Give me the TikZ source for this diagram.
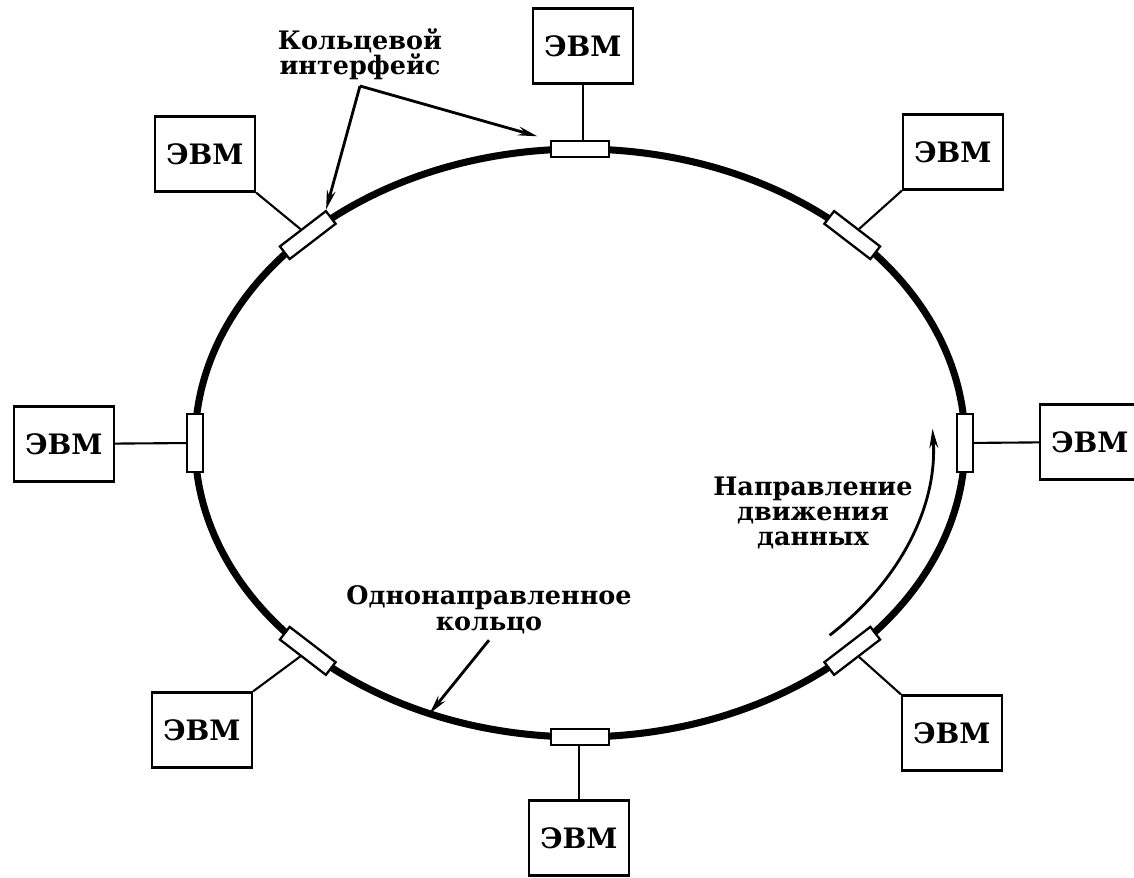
\documentclass[tikz,border=0pt]{standalone}
\usepackage{fontspec}
\setmainfont{DejaVu Serif}
\usetikzlibrary{positioning, arrows.meta, calc}

\begin{document}
\begin{tikzpicture}[
  x=0.02cm, y=0.02cm,
  pc/.style={draw, line width=1.3pt, minimum width=2cm, minimum height=1.5cm, inner sep=0pt, font=\fontsize{16}{16}\selectfont\bfseries},
  ifc/.style={draw, fill=white, line width=1.3pt, minimum width=1.16cm, minimum height=0.32cm, inner sep=0pt},
  ring/.style={line width=4pt},
  link/.style={line width=1.2pt},
  lbl/.style={font=\fontsize{14.5}{14.5}\selectfont\bfseries, align=center},
  ptr/.style={line width=1.6pt, -{Stealth[length=11pt, width=5pt]}},
]
  \useasboundingbox (0,0) rectangle (1134,878);
  \coordinate (c) at (580,435);
  % Ring
  \draw[ring] (c) ellipse[x radius=385, y radius=294];
  % Ring interfaces
  \foreach \a/\r in {0/90, 45/-37.5, 90/0, 135/37.5, 180/90, 225/-37.5, 270/0, 315/37.5}
    \node[ifc, rotate=\r] (i\a) at ($(c)+(\a:385 and 294)$) {};
  % Computers
  \node[pc] (e0) at (1090,436) {ЭВМ};
  \node[pc] (e45) at (953,726) {ЭВМ};
  \node[pc] (e90) at (583,832) {ЭВМ};
  \node[pc] (e135) at (205,724) {ЭВМ};
  \node[pc] (e180) at (64,434) {ЭВМ};
  \node[pc] (e225) at (202,148) {ЭВМ};
  \node[pc] (e270) at (579,40) {ЭВМ};
  \node[pc] (e315) at (952,145) {ЭВМ};
  % Taps
  \draw[link] (e0) -- (i0);
  \draw[link] (e45.south west) -- (i45);
  \draw[link] (e90.south) -- (e90.south |- i90.north);
  \draw[link] (e135.south east) -- (i135);
  \draw[link] (e180) -- (i180);
  \draw[link] (e225.north east) -- (i225);
  \draw[link] (e270.north) -- (e270.north |- i270.south);
  \draw[link] (e315.north west) -- (i315);
  % Labels
  \node[lbl] (lIfc) at (360,824) {Кольцевой\\интерфейс};
  \node[lbl] (lDir) at (813,365) {Направление\\движения\\данных};
  \node[lbl] (lRing) at (489,268) {Однонаправленное\\кольцо};
  \coordinate (rp) at ($(c)+(247:385 and 294)$);
  \coordinate (ds) at ($(c)+(-45:353 and 272)$);
  \draw[ptr, shorten >=0.26cm] (lIfc.south) -- (i90.north west);
  \draw[ptr] (lIfc.south) -- (i135.north east);
  \draw[ptr] (lRing.south) -- (rp);
  \draw[ptr] (ds) arc[start angle=-45, end angle=3, x radius=353, y radius=272];
\end{tikzpicture}
\end{document}
